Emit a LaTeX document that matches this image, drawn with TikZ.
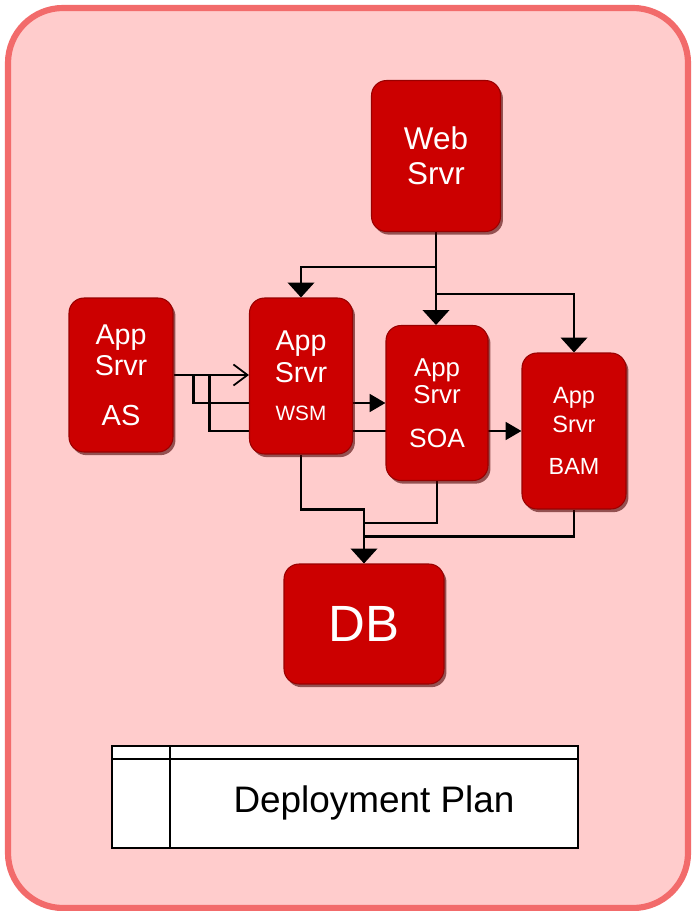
\documentclass[tikz,border=0pt]{standalone}
\usepackage{fontspec}
\setmainfont{Liberation Sans}
\usepackage{tikz}
\usetikzlibrary{arrows.meta,shadows,backgrounds}
\usepackage{xcolor}

\definecolor{srvrred}{HTML}{CC0000}
\definecolor{srvredge}{HTML}{990000}
\definecolor{pagepink}{HTML}{FFCCCC}
\definecolor{pageedge}{HTML}{F26B6B}

\begin{document}
\begin{tikzpicture}[x=0.02cm,y=-0.02cm,
  srvr/.style={rounded corners=0.3cm,fill=srvrred,draw=srvredge,line width=.6pt,
    text=white,align=center,inner sep=0pt,
    drop shadow={shadow xshift=1.4pt,shadow yshift=-1.8pt,fill=srvredge!50!black,opacity=.6}},
  link/.style={line width=1.6pt},
  bigtip/.style={-{Triangle[width=15pt,length=8.5pt]}},
  smalltip/.style={-{Triangle[width=10pt,length=9pt]}},
  opentip/.style={-{Straight Barb[width=12pt,length=8pt,line width=1pt]}}]

\useasboundingbox (0,0) rectangle (691,911);

%servers
\node[srvr,minimum width=2.58cm,minimum height=3.02cm,font=\fontsize{17.9}{19.8}\selectfont]
  (web) at (436,156) {Web\\Srvr};
\node[srvr,minimum width=2.08cm,minimum height=3.08cm,font=\fontsize{16.3}{17.6}\selectfont]
  (as) at (121,375) {App\\Srvr\\[10.7pt]{\fontsize{16.5}{18}\selectfont AS}};
\node[srvr,minimum width=2.06cm,minimum height=3.12cm,font=\fontsize{16.3}{18.1}\selectfont]
  (wsm) at (301,376) {App\\Srvr\\[3.4pt]{\fontsize{11.8}{13}\selectfont WSM}};
\node[srvr,minimum width=2.04cm,minimum height=3.1cm,font=\fontsize{14.7}{15.3}\selectfont]
  (soa) at (437,403) {App\\Srvr\\[9.6pt]{\fontsize{15}{16}\selectfont SOA}};
\node[srvr,minimum width=2.08cm,minimum height=3.12cm,font=\fontsize{13.4}{16.4}\selectfont]
  (bam) at (574,431) {App\\Srvr\\[7.4pt]{\fontsize{13.3}{15}\selectfont BAM}};
\node[srvr,minimum width=3.2cm,minimum height=2.4cm,font=\fontsize{29}{32}\selectfont]
  (db) at (364,624) {DB};

%deployment plan
\node[draw,fill=white,line width=1.2pt,minimum width=9.32cm,minimum height=2.04cm,inner sep=0pt]
  (plan) at (345,797) {};
\draw[line width=1.2pt] (112,759) -- (578,759);
\draw[line width=1.2pt] (170,746) -- (170,848);
\node[font=\fontsize{21}{24}\selectfont] (planlabel) at (374,803) {Deployment Plan};

\begin{scope}[on background layer]
%page
\draw[line width=3.5pt,draw=pageedge,fill=pagepink,rounded corners=1.1cm] (8,8) rectangle (688,908);

%from web server
\draw[link,bigtip] (web.south) -- ++(0,35) -| (wsm.north);
\draw[link,bigtip] (web.south) -- (web.south |- soa.north);
\draw[link,bigtip] (web.south) ++(0,62) -| (bam.north);

%from AS
\draw[link,opentip] (as.east) -- (as.east -| wsm.west);
\draw[link,smalltip] (as.east) ++(20,0) |- (soa.west);
\draw[link,smalltip] (as.east) ++(36,0) |- (bam.west);

%to DB
\draw[link,bigtip] (wsm.south) -- ++(0,55) -| (db.north);
\draw[link] (soa.south) -- ++(0,42) -| (db.north);
\draw[link] (bam.south) -- ++(0,27) -| (db.north);
\end{scope}

\end{tikzpicture}
\end{document}
